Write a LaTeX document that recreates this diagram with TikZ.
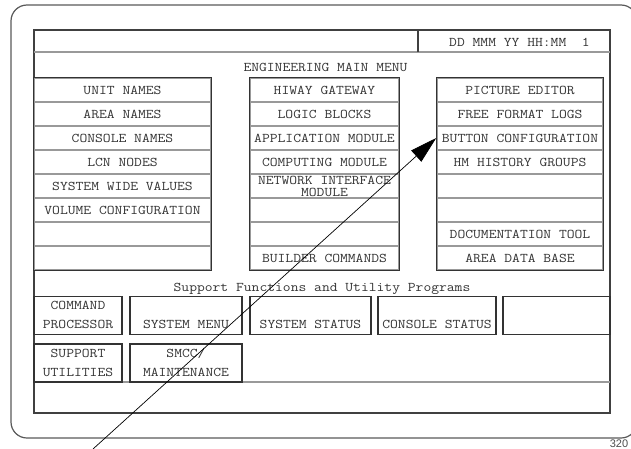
\documentclass[tikz,border=0pt]{standalone}
\usepackage{fontspec}
\setmainfont{Latin Modern Mono}[FakeStretch=1.14]
\setsansfont{Liberation Sans}
\usetikzlibrary{arrows.meta}
\begin{document}
\begin{tikzpicture}[x=1pt,y=-1pt,
  outerframe/.style={draw=black!65, line width=1.2pt},
  screenbox/.style={draw=black!75, line width=1.2pt},
  sepline/.style={draw=black!40, line width=1.5pt},
  cell/.style={draw=black!40, line width=1.5pt, minimum height=24pt, inner sep=0pt,
    font=\fontsize{13.3}{12}\selectfont, text=black!80, align=center},
  colbox/.style={draw=black!80, line width=1.2pt},
  button/.style={draw=black!80, line width=1.1pt, minimum height=37.5pt, inner sep=0pt,
    font=\fontsize{13.3}{19}\selectfont, text=black!80, align=center},
  menutext/.style={font=\fontsize{13.3}{16}\selectfont, text=black!80, inner sep=0pt},
  pointer/.style={draw=black, line width=0.7pt, -{Triangle[length=27pt,width=15pt]}}
]
\useasboundingbox (0,0) rectangle (631,449);
\begin{scope}
\clip (0,0) rectangle (631,449);
% outer rounded frame
\draw[outerframe, rounded corners=16pt] (11,5) rectangle (637,438);
% screen
\node[screenbox, minimum width=576pt, minimum height=383pt, inner sep=0pt] (scr) at (322,221.5) {};
\draw[sepline] (34,52) -- (610,52);
\draw[screenbox] (418,30) -- (418,52);
\node[menutext, anchor=west] (date) at (449,42) {DD MMM YY HH:MM\ \ 1};
\node[menutext] (title) at (325.5,67) {ENGINEERING MAIN MENU};
% columns
\foreach \i/\t in {1/UNIT NAMES,2/AREA NAMES,3/CONSOLE NAMES,4/LCN NODES,5/SYSTEM WIDE VALUES,6/VOLUME CONFIGURATION,7/{},8/{}}
  \node[cell, minimum width=177pt] (l\i) at (122.5,66+24*\i) {\t};
\foreach \i/\t in {1/HIWAY GATEWAY,2/LOGIC BLOCKS,3/APPLICATION MODULE,4/COMPUTING MODULE,5/{NETWORK INTERFACE\\MODULE},6/{},7/{},8/BUILDER COMMANDS}
  \node[cell, minimum width=149pt] (m\i) at (324.5,66+24*\i) {\t};
\foreach \i/\t in {1/PICTURE EDITOR,2/FREE FORMAT LOGS,3/BUTTON CONFIGURATION,4/HM HISTORY GROUPS,5/{},6/{},7/DOCUMENTATION TOOL,8/AREA DATA BASE}
  \node[cell, minimum width=166pt] (r\i) at (520,66+24*\i) {\t};
\draw[colbox] (l1.north west) rectangle (l8.south east);
\draw[colbox] (m1.north west) rectangle (m8.south east);
\draw[colbox] (r1.north west) rectangle (r8.south east);
% support functions
\node[menutext] (support) at (322,289) {Support Functions and Utility Programs};
\draw[sepline] (34,382) -- (610,382);
\node[button, minimum width=88pt] (b1) at (78,315.5) {\strut COMMAND\\\strut PROCESSOR};
\node[button, minimum width=112pt] (b2) at (186,315.5) {\strut\\\strut SYSTEM MENU};
\node[button, minimum width=121pt] (b3) at (310.5,315.5) {\strut\\\strut SYSTEM STATUS};
\node[button, minimum width=118pt] (b4) at (437,315.5) {\strut\\\strut CONSOLE STATUS};
\node[button, minimum width=107pt] (b5) at (556.5,315.5) {};
\node[button, minimum width=88pt] (b6) at (78,363) {\strut SUPPORT\\\strut UTILITIES};
\node[button, minimum width=112pt] (b7) at (186,363) {\strut SMCC/\\\strut MAINTENANCE};
% pointer
\coordinate (tail) at (93,449);
\draw[pointer] (tail) -- (r3.west);
\node[font=\sffamily\fontsize{11}{11}\selectfont, text=black!70] (num) at (619,444) {320};
\end{scope}
\end{tikzpicture}
\end{document}
